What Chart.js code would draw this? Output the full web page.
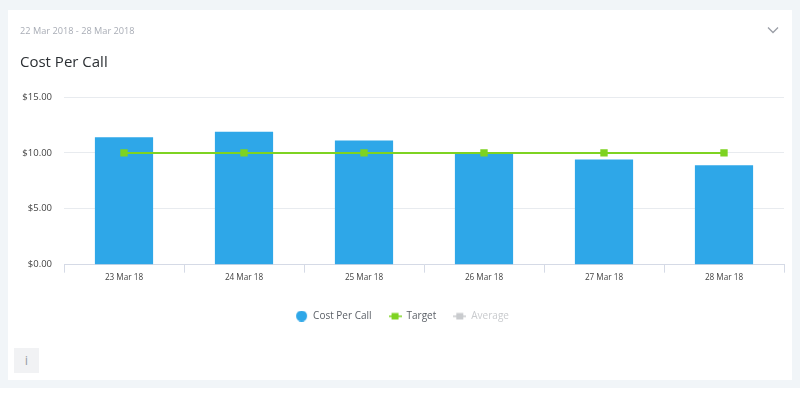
<!DOCTYPE html>
<html>
<head>
<meta charset="utf-8">
<title>Cost Per Call</title>
<script src="https://cdn.jsdelivr.net/npm/chart.js@4"></script>
<style>
  html, body { margin: 0; padding: 0; width: 800px; height: 400px; overflow: hidden; background: #fff; font-family: "Open Sans", sans-serif; }
  #page { position: absolute; left: 0; top: 0; width: 800px; height: 388px; background: #f1f5f8; }
  #card { position: absolute; left: 8px; top: 10px; width: 784px; height: 370px; background: #fff; }
  #range { position: absolute; left: 20px; top: 24px; font-size: 9.2px; line-height: 14px; color: #a9adb6; }
  #title { position: absolute; left: 20px; top: 51px; font-size: 15px; line-height: 21px; color: #2b2f33; }
  #toggle { position: absolute; left: 767px; top: 26px; }
  #info { position: absolute; left: 14px; top: 348px; width: 25px; height: 25px; background: #f1f2f4; color: #9a9ea6; font-size: 13px; line-height: 25px; text-align: center; }
  #chart { position: absolute; left: 0; top: 0; }
</style>
</head>
<body>
<div id="page"></div>
<div id="card"></div>
<canvas id="chart" width="800" height="400"></canvas>
<div id="range">22 Mar 2018 - 28 Mar 2018</div>
<div id="title">Cost Per Call</div>
<svg id="toggle" width="12" height="9"><polyline points="1,1.5 6,6.5 11,1.5" fill="none" stroke="#9a9ea6" stroke-width="1.3"/></svg>
<div id="info">i</div>
<script>
const days = ["23 Mar 18", "24 Mar 18", "25 Mar 18", "26 Mar 18", "27 Mar 18", "28 Mar 18"];
const costPerCall = [11.4, 11.9, 11.1, 10.0, 9.4, 8.9];
const target = [10, 10, 10, 10, 10, 10];
const yTicks = [0, 5, 10, 15];

const BLUE = "#2ea7e8";
const GREEN = "#7ed321";
const GREY = "#c9cbce";

// legend glyphs, the stock point styles can't do a line through a square
function glyph(color, round) {
  const c = document.createElement("canvas");
  c.width = 13;
  c.height = 11;
  const g = c.getContext("2d");
  g.fillStyle = color;
  if (round) {
    g.beginPath();
    g.arc(6.5, 5.5, 5.5, 0, Math.PI * 2);
    g.fill();
  } else {
    g.fillRect(0, 5, 13, 1.5);
    g.fillRect(3, 2.5, 7, 6.5);
  }
  return c;
}

new Chart(document.getElementById("chart").getContext("2d"), {
  type: "bar",
  data: {
    labels: days,
    datasets: [
      { label: "Target", type: "line", data: target, order: 1, borderColor: GREEN, backgroundColor: GREEN, borderWidth: 2, pointStyle: "rect", pointRadius: 3.8, tension: 0 },
      { label: "Cost Per Call", data: costPerCall, order: 2, backgroundColor: BLUE, barPercentage: 0.485, categoryPercentage: 1 },
      { label: "Average", type: "line", data: [], order: 0, hidden: true, borderColor: GREY, backgroundColor: GREY }
    ]
  },
  options: {
    responsive: false,
    animation: false,
    layout: { padding: { top: 97, right: 16, bottom: 69, left: 20 } },
    plugins: {
      tooltip: { enabled: false },
      legend: {
        position: "bottom",
        labels: {
          usePointStyle: true,
          pointStyleWidth: 13,
          boxHeight: 11,
          padding: 17,
          color: "#5a5f66",
          font: { family: "'Open Sans'", size: 10 },
          generateLabels: () => [
            { text: "Cost Per Call", pointStyle: glyph(BLUE, true), fontColor: "#5a5f66", lineWidth: 0 },
            { text: "Target", pointStyle: glyph(GREEN, false), fontColor: "#5a5f66", lineWidth: 0 },
            { text: "Average", pointStyle: glyph(GREY, false), fontColor: "#c9cbce", lineWidth: 0 }
          ]
        }
      }
    },
    scales: {
      x: {
        afterFit: (axis) => { axis.height += 11.5; },
        grid: { drawOnChartArea: false, color: "#d5dae6", tickLength: 8 },
        border: { color: "#d5dae6" },
        ticks: { color: "#444", font: { family: "'Open Sans'", size: 8.2 }, padding: 0, maxRotation: 0 }
      },
      y: {
        min: 0,
        max: 15,
        afterFit: (axis) => { axis.width = 44; },
        afterBuildTicks: (axis) => { axis.ticks = yTicks.map((v) => ({ value: v })); },
        grid: { color: "#e8ebef", drawTicks: false },
        border: { display: false },
        ticks: { color: "#444", font: { family: "'Open Sans'", size: 9.5 }, padding: 12, callback: (v) => "$" + v.toFixed(2) }
      }
    }
  }
});
</script>
</body>
</html>
